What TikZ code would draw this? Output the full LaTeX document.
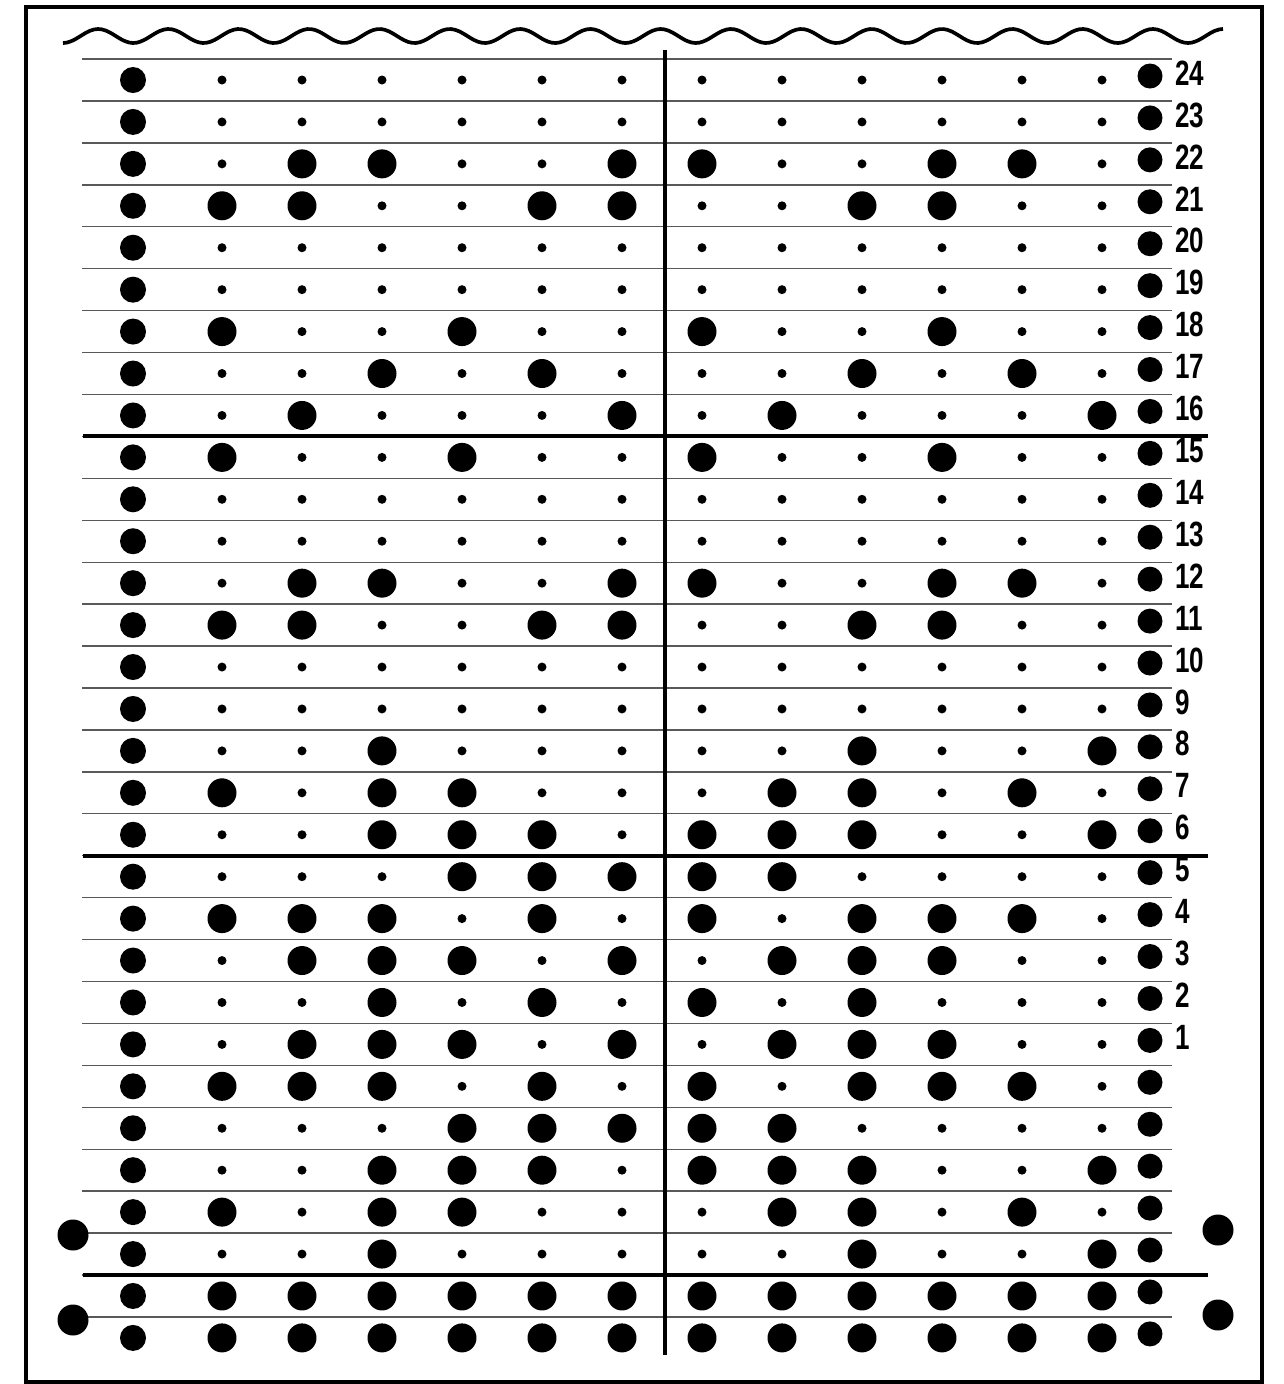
\documentclass[tikz,border=0pt]{standalone}
\usepackage{fontspec}
\newfontfamily\cardfont[FakeStretch=0.74]{Liberation Sans}

\begin{document}
\begin{tikzpicture}[x=0.02cm, y=-0.02cm,
    rule/.style={draw=black!65, line width=0.8pt},
    bar/.style={draw=black, line width=2.2pt},
    lab/.style={anchor=west, inner sep=0pt, font=\cardfont\bfseries\fontsize{20}{20}\selectfont}]
  \useasboundingbox (0,0) rectangle (1284,1384);
  % frame and torn top edge
  \draw[line width=2.3pt] (26,7) rectangle (1262,1382);
  \draw[line width=2.1pt] plot[domain=63:1223, samples=300, smooth] (\x, {36+7*cos(5.12*(\x-63))});
  % row rules
  \foreach \k in {0,...,30} {
    \pgfmathsetmacro\ly{80+41.93*(\k-0.5)}
    \draw[rule] (82,\ly) -- (1172,\ly);
  }
  \foreach \k in {9,19,29} {
    \pgfmathsetmacro\ly{80+41.93*(\k-0.5)}
    \draw[bar] (83,\ly) -- (1208,\ly);
  }
  \draw[bar, line width=2pt] (665,50) -- (665,1355);
  % unpunched positions and edge holes
  \foreach \r in {0,...,30} {
    \pgfmathsetmacro\ry{80+41.93*\r}
    \fill (133,\ry) circle [radius=13];
    \fill (1150,\ry-4) circle [radius=12.5];
    \foreach \c in {1,...,12}
      \fill (222+80*\c-80,\ry) circle [radius=4.5];
  }
  % punched holes
  \foreach \r/\cols in {2/{2,3,6,7,10,11}, 3/{1,2,5,6,9,10}, 6/{1,4,7,10},
      7/{3,5,9,11}, 8/{2,6,8,12}, 9/{1,4,7,10}, 12/{2,3,6,7,10,11},
      13/{1,2,5,6,9,10}, 16/{3,9,12}, 17/{1,3,4,8,9,11}, 18/{3,4,5,7,8,9,12},
      19/{4,5,6,7,8}, 20/{1,2,3,5,7,9,10,11}, 21/{2,3,4,6,8,9,10},
      22/{3,5,7,9}, 23/{2,3,4,6,8,9,10}, 24/{1,2,3,5,7,9,10,11},
      25/{4,5,6,7,8}, 26/{3,4,5,7,8,9,12}, 27/{1,3,4,8,9,11}, 28/{3,9,12},
      29/{1,2,3,4,5,6,7,8,9,10,11,12}, 30/{1,2,3,4,5,6,7,8,9,10,11,12}} {
    \pgfmathsetmacro\ry{80+41.93*\r}
    \foreach \c in \cols
      \fill (222+80*\c-80,\ry) circle [radius=14.5];
  }
  % row numbers
  \foreach \r in {0,...,23} {
    \pgfmathtruncatemacro\num{24-\r}
    \node[lab] (n\num) at (1175,{80+41.93*\r-7}) {\num};
  }
  % sprocket holes
  \fill (73,1235) circle [radius=15.5];
  \fill (73,1320) circle [radius=15.5];
  \fill (1218,1230) circle [radius=15.5];
  \fill (1218,1315) circle [radius=15.5];
\end{tikzpicture}
\end{document}
